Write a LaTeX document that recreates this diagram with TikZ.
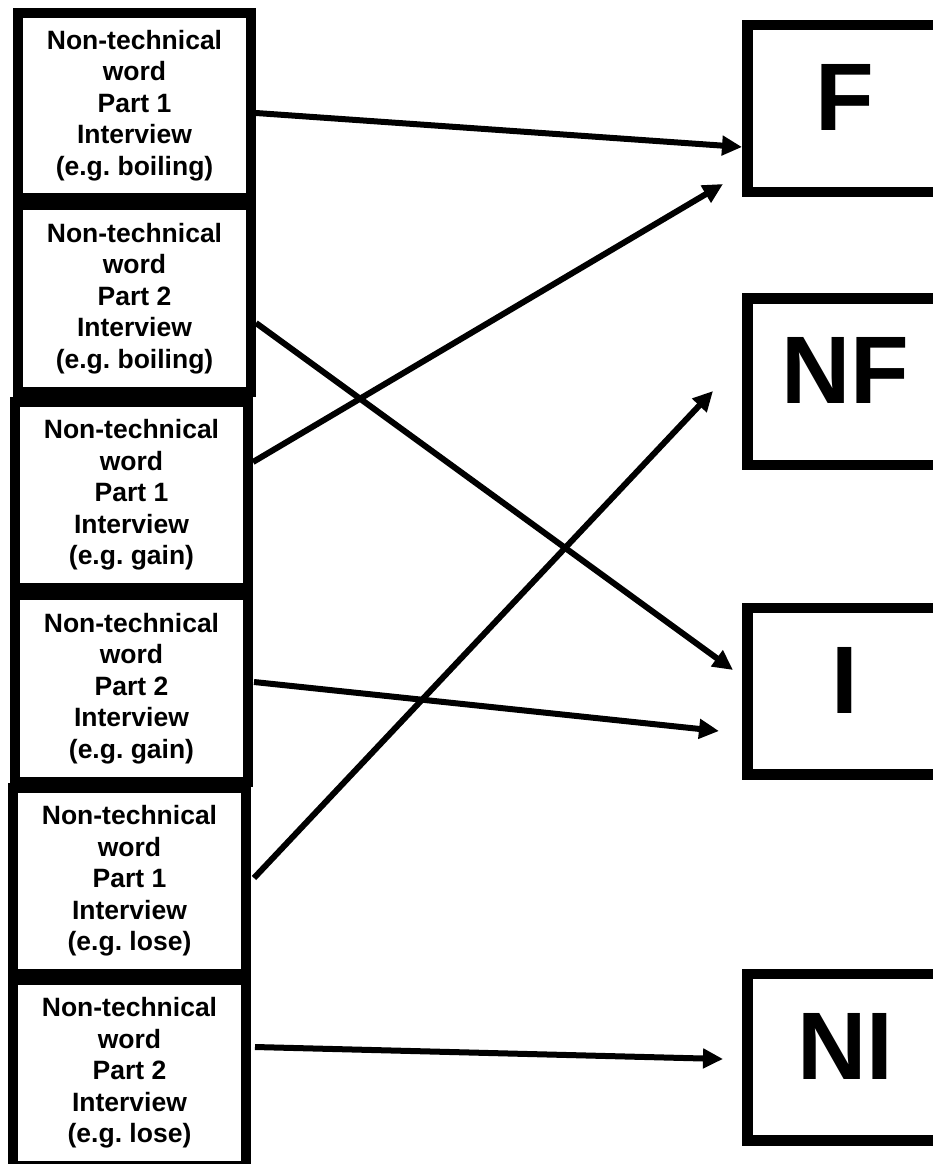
\documentclass[tikz,border=0pt]{standalone}
\usepackage{fontspec}
\setmainfont{Liberation Sans}
\usetikzlibrary{arrows.meta,calc}
\frenchspacing
\begin{document}
\begin{tikzpicture}[x=1pt,y=-1pt,
  lbox/.style={draw, line width=10pt, minimum width=233pt, inner sep=0pt, align=center,
    font=\fontsize{26.5}{31.5}\selectfont\bfseries},
  rbox/.style={draw, line width=10.5pt, minimum width=195.5pt, minimum height=166.5pt, inner sep=0pt,
    font=\fontsize{96}{100}\selectfont\bfseries, text height=69pt, text depth=25pt},
  conn/.style={line width=6pt, -{Triangle[length=20pt,width=19pt]}}]
\useasboundingbox (0,0) rectangle (933,1164);
\clip (0,0) rectangle (933,1164);

% left boxes
\node[lbox, minimum height=185pt] (b1) at (134.5,105.5) {Non-technical\\word\\Part 1\\Interview\\(e.g. boiling)};
\node[lbox, minimum height=187pt] (b2) at (134.5,298.5) {Non-technical\\word\\Part 2\\Interview\\(e.g. boiling)};
\node[lbox, minimum height=186pt] (b3) at (131.5,495) {Non-technical\\word\\Part 1\\Interview\\(e.g. gain)};
\node[lbox, minimum height=187pt] (b4) at (131.5,688.5) {Non-technical\\word\\Part 2\\Interview\\(e.g. gain)};
\node[lbox, minimum height=186pt] (b5) at (129.5,881) {Non-technical\\word\\Part 1\\Interview\\(e.g. lose)};
\node[lbox, minimum height=186pt] (b6) at (129.5,1073) {Non-technical\\word\\Part 2\\Interview\\(e.g. lose)};

% right boxes
\node[rbox] (F) at (845,108.5) {F};
\node[rbox] (NF) at (845,381.5) {NF};
\node[rbox] (I) at (845,691) {I};
\node[rbox] (NI) at (845,1057) {NI};

% connectors
\draw[conn] ($(b1.east)+(0,7.5)$) -- ($(F.west)+(0,38.5)$);
\draw[conn] ($(b3.east)+(0,-33)$) -- ($(F.west)+(-19,75.5)$);
\draw[conn] ($(b2.east)+(0,24.5)$) -- ($(I.west)+(-9,-21)$);
\draw[conn] ($(b5.east)+(3,-3)$) -- ($(NF.west)+(-29,9.5)$);
\draw[conn] ($(b4.east)+(1,-6.5)$) -- ($(I.west)+(-23,40)$);
\draw[conn] ($(b6.east)+(4,-26)$) -- ($(NI.west)+(-19,2)$);
\end{tikzpicture}
\end{document}
